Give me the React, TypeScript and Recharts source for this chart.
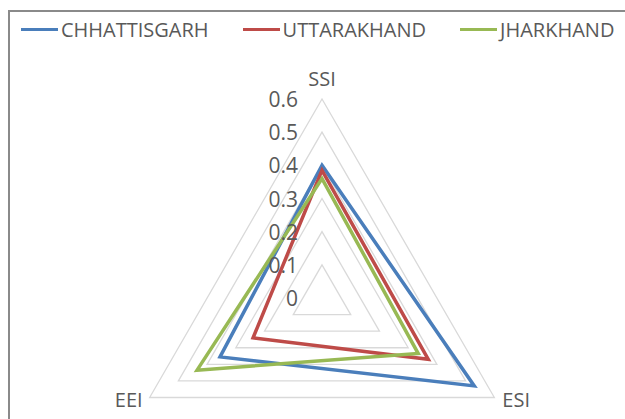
import React from 'react';
import { RadarChart, Radar, PolarGrid, PolarAngleAxis, PolarRadiusAxis } from 'recharts';

const indices = ['SSI', 'ESI', 'EEI'];
const chhattisgarh = [0.40, 0.53, 0.355];
const uttarakhand = [0.385, 0.37, 0.24];
const jharkhand = [0.36, 0.335, 0.435];
const radiusTicks = [0, 0.1, 0.2, 0.3, 0.4, 0.5, 0.6];

const seriesNames = ['CHHATTISGARH', 'UTTARAKHAND', 'JHARKHAND'];
const seriesKeys = ['chh', 'utt', 'jha'];
const seriesColors = ['#4A7EBB', '#BE4B48', '#98B954'];

const data = indices.map((name, i) => ({
  name,
  chh: chhattisgarh[i],
  utt: uttarakhand[i],
  jha: jharkhand[i],
}));

const FONT = '"Open Sans", "Liberation Sans", sans-serif';
const TEXT = '#595959';

const CX = 322;
const CY = 298;
const R = 199; // pixel radius of the 0.6 ring
const AXIS_MAX = 0.6;
// the radius axis here spans [0, 1] over the outer radius, so scale it so 0.6 lands on R
const OUTER = R / AXIS_MAX;

const AngleTick = (props: any) => {
  const { x, y, payload } = props;
  const dx = x - CX;
  const dy = y - CY;
  const len = Math.sqrt(dx * dx + dy * dy) || 1;
  const vx = CX + (dx / len) * R;
  const vy = CY + (dy / len) * R;
  let tx = vx;
  let ty = vy;
  let anchor = 'middle';
  if (Math.abs(dx) < 1) {
    ty = vy - 21;
  } else if (dx > 0) {
    tx = vx + 8;
    ty = vy + 2;
    anchor = 'start';
  } else {
    tx = vx - 7;
    ty = vy + 2;
    anchor = 'end';
  }
  return (
    <text x={tx} y={ty} textAnchor={anchor} dominantBaseline="central" fill={TEXT} fontSize={20} fontFamily={FONT}>
      {payload.value}
    </text>
  );
};

const RadiusTick = (props: any) => {
  const { x, y, payload } = props;
  return (
    <text x={x - 24} y={y} textAnchor="end" dominantBaseline="central" fill={TEXT} fontSize={21} fontFamily={FONT}>
      {payload.value}
    </text>
  );
};

const LegendBlock = () => (
  <div style={{ position: 'absolute', left: 21, top: 16, display: 'flex', alignItems: 'center', fontFamily: FONT, fontSize: 20, color: TEXT, whiteSpace: 'nowrap' }}>
    {seriesNames.map((n, i) => (
      <div key={n} style={{ display: 'flex', alignItems: 'center', marginRight: 34 }}>
        <div style={{ width: 37, height: 3.5, background: seriesColors[i], marginRight: 3 }} />
        <span>{n}</span>
      </div>
    ))}
  </div>
);

export default function App() {
  return (
    <div style={{ position: 'absolute', left: 0, top: 0, width: 625, height: 419, overflow: 'hidden', background: '#fff' }}>
      <div style={{ position: 'absolute', left: 8, top: 10, width: 800, height: 600, border: '2px solid #8A8A8A' }} />
      <div style={{ position: 'absolute', left: 0, top: 0 }}>
        <RadarChart width={625} height={419} data={data} cx={CX} cy={CY} outerRadius={OUTER} startAngle={90} endAngle={-270} margin={{ top: 0, right: 0, bottom: 0, left: 0 }}>
          <PolarGrid gridType="polygon" radialLines={false} stroke="#D9D9D9" strokeWidth={1.3} />
          <PolarAngleAxis dataKey="name" tick={AngleTick} axisLine={false} tickLine={false} />
          <PolarRadiusAxis angle={90} domain={[0, 1]} ticks={radiusTicks as any} tick={RadiusTick} axisLine={false} tickLine={false} />
          {seriesKeys.map((k, i) => (
            <Radar key={k} name={seriesNames[i]} dataKey={k} stroke={seriesColors[i]} strokeWidth={3.5} fill="none" fillOpacity={0} isAnimationActive={false} dot={false} />
          ))}
        </RadarChart>
      </div>
      <LegendBlock />
    </div>
  );
}
